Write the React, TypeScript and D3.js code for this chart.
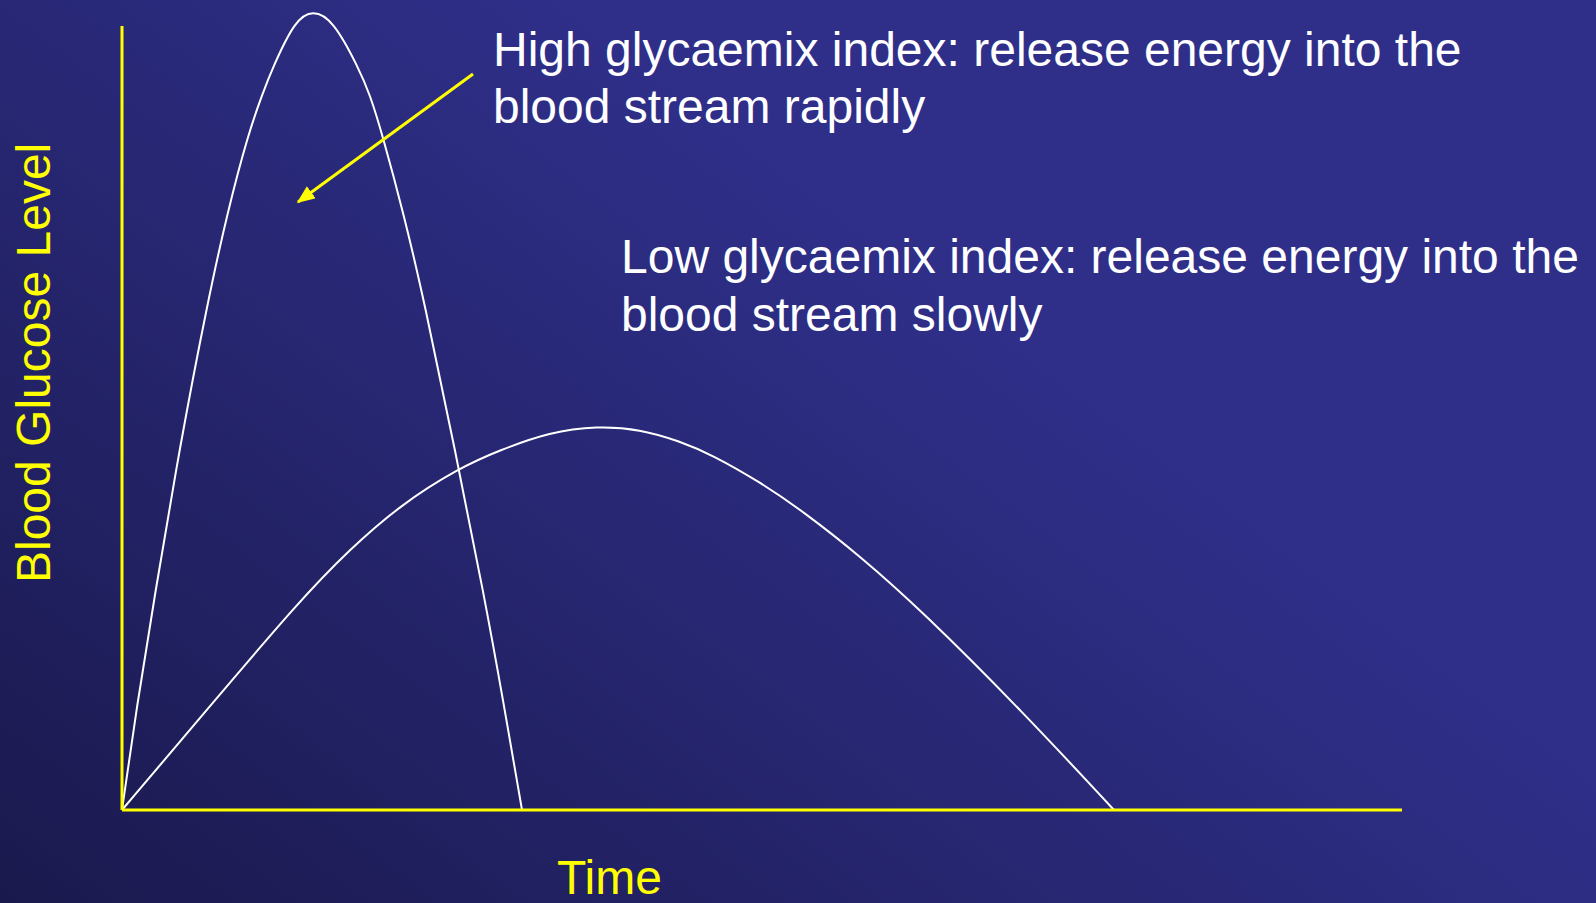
import { useEffect, useRef } from "react";
import * as d3 from "d3";

// time (0-100) vs blood glucose level (0-100)
const highTime = [0, 1.17, 2.5, 4.53, 6.72, 8.28, 9.84, 10.94, 11.8, 13.52, 14.92, 16.48, 18.44, 19.38, 20.31, 22.03, 23.59, 26.02, 28.36, 29.77, 31.25];
const highLevel = [0, 13.1, 26.25, 45.6, 63.75, 75, 84.4, 89.4, 92.9, 98.75, 100, 98.75, 92.9, 89.4, 84.6, 74.4, 63.75, 45, 26.25, 13.75, 0];

const lowTime = [0, 6.09, 13.91, 17.81, 21.72, 26.33, 29.53, 33.44, 37.11, 40.47, 43.59, 46.09, 49.84, 53.28, 57.66, 62.42, 70.39, 77.5];
const lowLevel = [0, 11.5, 26.25, 32.6, 38.1, 42.75, 45, 47.25, 48, 47.6, 46.1, 44.4, 41, 37.25, 31.75, 25, 12.25, 0];

const xLabel = "Time";
const yLabel = "Blood Glucose Level";
const highNote = ["High glycaemix index: release energy into the", "blood stream rapidly"];
const lowNote = ["Low glycaemix index: release energy into the", "blood stream slowly"];

export default function App() {
  const ref = useRef<SVGSVGElement>(null);

  useEffect(() => {
    const width = 1596;
    const height = 903;
    const svg = d3.select(ref.current);
    svg.selectAll("*").remove();

    const defs = svg.append("defs");
    const grad = defs
      .append("linearGradient")
      .attr("id", "bg")
      .attr("gradientUnits", "userSpaceOnUse")
      .attr("x1", 0)
      .attr("y1", height)
      .attr("x2", 640)
      .attr("y2", 50);
    grad.append("stop").attr("offset", 0).attr("stop-color", "#1a194d");
    grad.append("stop").attr("offset", 1).attr("stop-color", "#2f2f8a");

    defs
      .append("marker")
      .attr("id", "head")
      .attr("viewBox", "0 0 12 10")
      .attr("refX", 11)
      .attr("refY", 5)
      .attr("markerWidth", 6)
      .attr("markerHeight", 5)
      .attr("markerUnits", "strokeWidth")
      .attr("orient", "auto")
      .append("path")
      .attr("d", "M0,0 L12,5 L0,10 z")
      .attr("fill", "#ffff00");

    svg.append("rect").attr("width", width).attr("height", height).attr("fill", "url(#bg)");

    const x = d3.scaleLinear().domain([0, 100]).range([122, 1402]);
    const y = d3.scaleLinear().domain([0, 100]).range([810, 10]);

    // smooth freehand-looking curves through the dense readings
    const line = d3
      .line<[number, number]>()
      .x((d) => x(d[0]))
      .y((d) => y(d[1]))
      .curve(d3.curveBasis);

    const series = [
      highTime.map((t, i) => [t, highLevel[i]] as [number, number]),
      lowTime.map((t, i) => [t, lowLevel[i]] as [number, number]),
    ];

    svg
      .selectAll("path.curve")
      .data(series)
      .enter()
      .append("path")
      .attr("class", "curve")
      .attr("fill", "none")
      .attr("stroke", "#ffffff")
      .attr("stroke-width", 2)
      .attr("d", line);

    // axes
    svg
      .append("line")
      .attr("x1", x(0))
      .attr("x2", x(0))
      .attr("y1", y(98))
      .attr("y2", y(0))
      .attr("stroke", "#ffff00")
      .attr("stroke-width", 3);
    svg
      .append("line")
      .attr("x1", x(0))
      .attr("x2", x(100))
      .attr("y1", y(0))
      .attr("y2", y(0))
      .attr("stroke", "#ffff00")
      .attr("stroke-width", 3);

    const font = "'Liberation Sans', Arial, sans-serif";

    svg
      .append("text")
      .attr("x", 557)
      .attr("y", 894)
      .attr("fill", "#ffff00")
      .attr("font-family", font)
      .attr("font-size", 48)
      .text(xLabel);

    svg
      .append("text")
      .attr("transform", "translate(50,583) rotate(-90)")
      .attr("fill", "#ffff00")
      .attr("font-family", font)
      .attr("font-size", 48)
      .text(yLabel);

    const note = (lines: string[], tx: number, ty: number, gap: number) => {
      const t = svg
        .append("text")
        .attr("fill", "#ffffff")
        .attr("font-family", font)
        .attr("font-size", 48);
      lines.forEach((s, i) => {
        t.append("tspan").attr("x", tx).attr("y", ty + i * gap).text(s);
      });
    };
    note(highNote, 493, 66, 57);
    note(lowNote, 621, 273, 58);

    // arrow pointing at the high GI curve
    svg
      .append("line")
      .attr("x1", 473)
      .attr("y1", 74)
      .attr("x2", 298)
      .attr("y2", 202)
      .attr("stroke", "#ffff00")
      .attr("stroke-width", 3)
      .attr("marker-end", "url(#head)");
  }, []);

  return (
    <svg
      ref={ref}
      width={1596}
      height={903}
      style={{ position: "absolute", left: 0, top: 0, display: "block" }}
    />
  );
}
